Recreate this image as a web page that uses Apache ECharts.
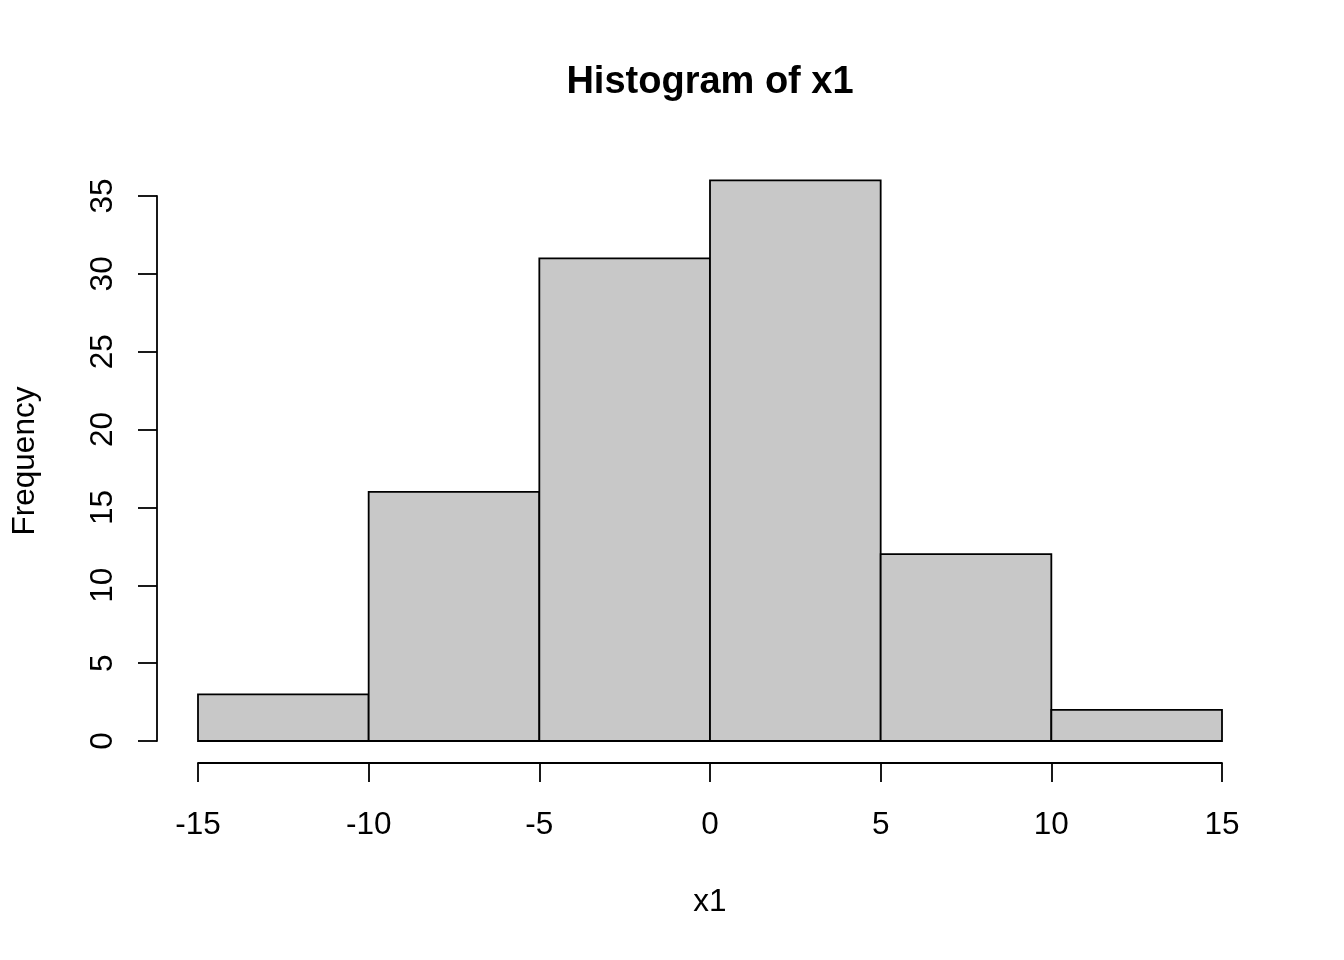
<!DOCTYPE html>
<html>
<head>
<meta charset="utf-8">
<script src="https://cdn.jsdelivr.net/npm/echarts@6/dist/echarts.min.js"></script>
<style>
html,body{margin:0;padding:0;background:#fff;}
#chart{width:1344px;height:960px;}
</style>
</head>
<body>
<div id="chart"></div>
<script>
// Data
const binStarts = [-15, -10, -5, 0, 5, 10];
const binEnds = [-10, -5, 0, 5, 10, 15];
const counts = [3, 16, 31, 36, 12, 2];
const titleText = 'Histogram of x1';
const xLabel = 'x1';
const yLabel = 'Frequency';

const FONT = '"Liberation Sans", Arial, Helvetica, sans-serif';
const chart = echarts.init(document.getElementById('chart'), null, {renderer: 'canvas'});

const histData = binStarts.map((s, i) => [s, binEnds[i], counts[i]]);

chart.setOption({
  backgroundColor: '#ffffff',
  animation: false,
  title: {
    text: titleText,
    left: 705,
    top: 59,
    textAlign: 'center',
    textStyle: {fontFamily: FONT, fontSize: 38, fontWeight: 'bold', color: '#000', lineHeight: 38}
  },
  grid: {left: 198, right: 122, top: 196, bottom: 219, containLabel: false},
  xAxis: {
    type: 'value',
    min: -15, max: 15, interval: 5,
    offset: 22,
    name: xLabel,
    nameLocation: 'middle',
    nameGap: 123,
    nameTextStyle: {fontFamily: FONT, fontSize: 31.5, color: '#000', lineHeight: 32},
    axisLine: {show: true, onZero: false, lineStyle: {color: '#000', width: 1.8}},
    axisTick: {show: true, inside: false, length: 19, lineStyle: {color: '#000', width: 1.8}},
    axisLabel: {margin: 46, fontFamily: FONT, fontSize: 31.5, color: '#000', lineHeight: 32},
    splitLine: {show: false}
  },
  yAxis: {
    type: 'value',
    min: 0, max: 35, interval: 5,
    offset: 41,
    axisLine: {show: true, onZero: false, lineStyle: {color: '#000', width: 1.8}},
    axisTick: {show: true, inside: false, length: 19, lineStyle: {color: '#000', width: 1.8}},
    axisLabel: {margin: 38, rotate: 90, fontFamily: FONT, fontSize: 31.5, color: '#000', lineHeight: 32},
    splitLine: {show: false}
  },
  graphic: [{
    type: 'text',
    x: 25, y: 461,
    rotation: Math.PI / 2,
    style: {text: yLabel, fontFamily: FONT, fontSize: 31.5, fill: '#000', align: 'center', verticalAlign: 'middle'}
  }],
  series: [{
    type: 'custom',
    clip: false,
    data: histData,
    renderItem: function (params, api) {
      const p0 = api.coord([api.value(0), 0]);
      const p1 = api.coord([api.value(1), api.value(2)]);
      return {
        type: 'rect',
        shape: {x: p0[0], y: p1[1], width: p1[0] - p0[0], height: p0[1] - p1[1]},
        style: {fill: '#C8C8C8', stroke: '#000', lineWidth: 1.8}
      };
    }
  }]
});
</script>
</body>
</html>
